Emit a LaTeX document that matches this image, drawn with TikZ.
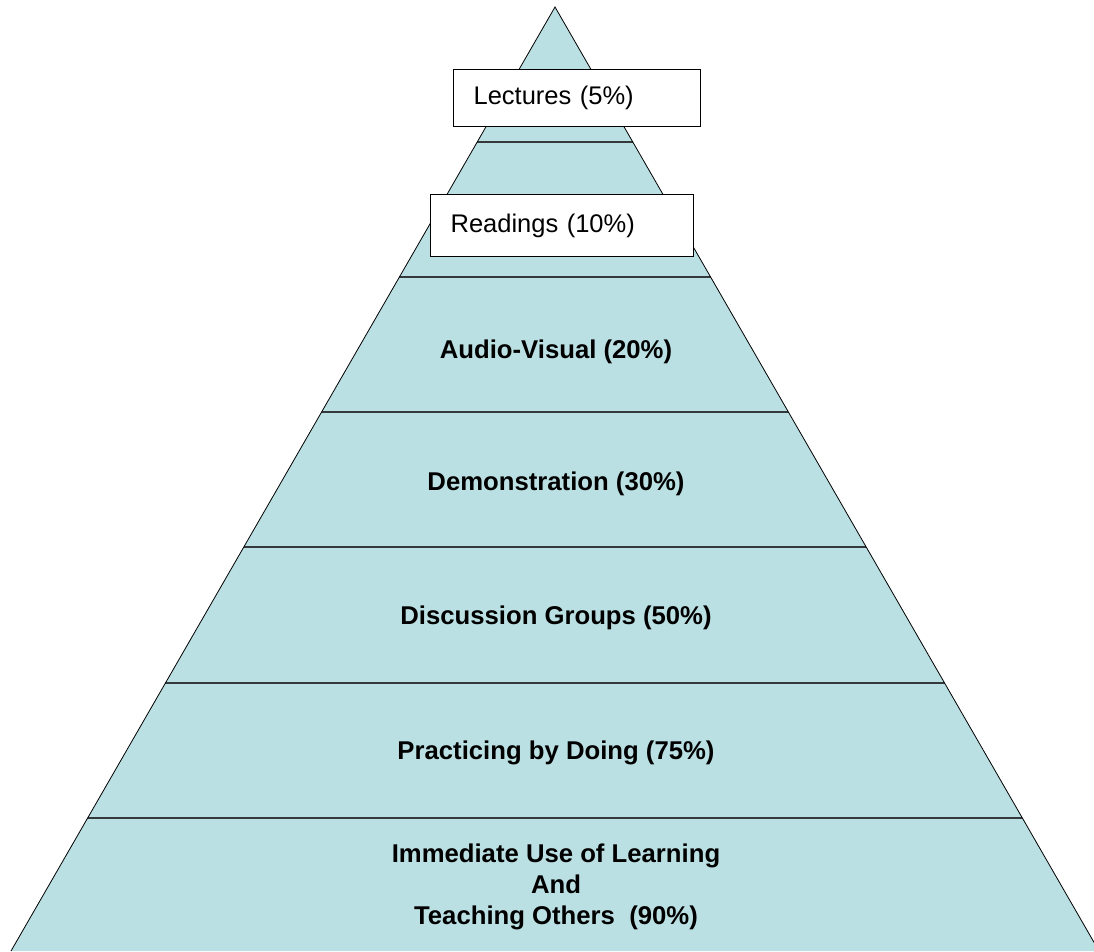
\documentclass[tikz,border=0pt]{standalone}
\usepackage{fontspec}
\setmainfont{Liberation Sans}
\usepackage{xcolor}
\usepackage{tikz}
\usetikzlibrary{positioning}

\definecolor{pyramidfill}{RGB}{187,224,227}
\definecolor{bandline}{RGB}{52,58,60}

\begin{document}
\begin{tikzpicture}[x=1pt, y=-1pt,
        every node/.style={font=\fontsize{25.5}{31}\selectfont},
        level/.style={font=\fontsize{25.7}{31}\selectfont\bfseries, align=center},
        tagbox/.style={draw, fill=white, line width=1.2pt, anchor=north west,
            inner xsep=20pt, align=left, minimum height=#1},
        divider/.style={draw=bandline, line width=2pt}]

    \useasboundingbox (0,0) rectangle (1094,951);

    % the pyramid
    \coordinate (apex) at (555,7);
    \coordinate (baseL) at (11,951);
    \coordinate (baseR) at (1099,951);
    \fill[pyramidfill] (apex) -- (baseL) -- (baseR) -- cycle;
    \begin{scope}
        \clip (apex) -- (baseL) -- (baseR) -- cycle;
        \foreach \y in {142,277,412,547,683,818}
            \draw[divider] (0,\y) -- (1094,\y);
    \end{scope}
    \draw[line width=0.8pt] (baseL) -- (apex) -- (baseR);

    % boxed levels at the top
    \node[tagbox=57pt, text width=207pt] (lectures) at (453,69) {Lectures (5\%)};
    \node[tagbox=62pt, text width=223pt] (readings) at (430,194) {Readings (10\%)};

    % bold levels
    \node[level] (audio) at (556,352) {Audio-Visual (20\%)};
    \node[level] (demo) at (556,484) {Demonstration (30\%)};
    \node[level] (discuss) at (556,618) {Discussion Groups (50\%)};
    \node[level] (practice) at (556,753) {Practicing by Doing (75\%)};
    \node[level] (immediate) at (556,887) {Immediate Use of Learning\\And\\Teaching Others~~(90\%)};
\end{tikzpicture}
\end{document}
